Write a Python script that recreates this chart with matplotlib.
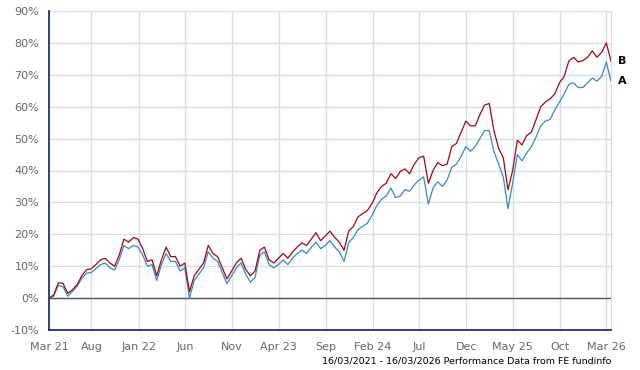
import numpy as np
import pandas as pd
import matplotlib
matplotlib.use("Agg")
import matplotlib.pyplot as plt

# semi-monthly readings, 16/03/2021 -> 16/03/2026
start_date = "2021-03-16"
end_date = "2026-03-16"

fund_b = [0.0, 1.0, 4.8, 4.6, 1.5, 2.6, 4.2, 7.0, 8.9, 9.2,
          10.5, 12.0, 12.5, 11.0, 10.0, 13.5, 18.5, 17.5, 19.0, 18.5,
          15.5, 11.5, 12.0, 7.0, 12.0, 16.0, 13.0, 13.0, 10.0, 11.0,
          2.0, 7.0, 9.0, 11.0, 16.5, 14.0, 13.0, 9.5, 6.0, 8.5,
          11.0, 12.5, 9.0, 7.0, 8.5, 15.0, 16.0, 12.0, 11.0, 12.5,
          14.0, 12.5, 14.5, 16.0, 17.3, 16.5, 18.5, 20.5, 18.0, 19.5,
          21.0, 19.0, 17.5, 15.0, 21.0, 22.5, 25.5, 26.5, 27.5, 29.7,
          33.0, 35.0, 36.0, 39.0, 37.5, 39.7, 40.5, 39.0, 42.0, 44.0,
          44.5, 36.0, 40.0, 42.5, 41.5, 42.0, 47.5, 48.5, 52.0, 55.5,
          54.0, 54.0, 57.5, 60.5, 61.0, 52.5, 47.0, 44.0, 34.0, 40.0,
          49.5, 48.0, 51.0, 52.0, 56.0, 60.0, 61.5, 62.5, 64.0, 67.5,
          69.5, 74.3, 75.5, 74.0, 74.5, 75.5, 77.5, 75.5, 77.0, 80.0,
          74.3]

fund_a = [0.0, 0.6, 4.0, 3.6, 0.6, 2.1, 3.7, 6.2, 7.8, 8.0,
          9.2, 10.5, 11.0, 9.5, 8.8, 12.0, 16.5, 15.5, 16.5, 16.0,
          13.5, 10.0, 10.5, 5.5, 10.5, 14.0, 11.5, 11.5, 8.5, 9.5,
          0.0, 5.5, 7.5, 9.5, 14.5, 12.5, 11.5, 8.0, 4.5, 7.0,
          9.5, 11.0, 7.5, 5.0, 6.5, 13.5, 14.5, 10.5, 9.5, 10.5,
          12.0, 10.5, 12.5, 14.0, 15.0, 14.0, 16.0, 17.5, 15.5, 16.5,
          18.0, 16.0, 14.5, 11.5, 17.5, 19.0, 21.5, 22.5, 23.5, 26.0,
          29.0, 31.0, 32.0, 34.5, 31.5, 32.0, 34.0, 33.5, 35.5, 37.0,
          38.0, 29.5, 34.5, 36.5, 35.0, 37.0, 41.0, 42.0, 44.5, 47.5,
          46.0, 47.5, 50.0, 52.5, 52.5, 46.0, 42.0, 38.0, 28.0, 36.0,
          45.0, 43.0, 45.5, 47.5, 50.5, 54.0, 55.5, 56.0, 59.0, 61.5,
          64.0, 67.0, 67.5, 66.0, 66.0, 67.5, 69.0, 68.0, 69.5, 74.0,
          68.0]

tick_dates = ["2021-03-16", "2021-08-01", "2022-01-01", "2022-06-01", "2022-11-01",
              "2023-04-01", "2023-09-01", "2024-02-01", "2024-07-01", "2024-12-01",
              "2025-05-01", "2025-10-01", "2026-03-01"]
tick_labels = ["Mar 21", "Aug", "Jan 22", "Jun", "Nov", "Apr 23", "Sep",
               "Feb 24", "Jul", "Dec", "May 25", "Oct", "Mar 26"]
y_ticks = [-10, 0, 10, 20, 30, 40, 50, 60, 70, 80, 90]

dates = pd.date_range(start_date, end_date, periods=len(fund_b))

fig = plt.figure(figsize=(6.4, 3.7), dpi=100)
ax = fig.add_axes([49/640, 1 - 330/370, (611 - 49)/640, (330 - 11)/370])

grid_col = "#d3e0ea"
navy = "#0d1f6e"

for y in y_ticks[1:]:
    ax.axhline(y, color=grid_col, lw=1, zorder=0)
for d in tick_dates[1:]:
    ax.axvline(pd.Timestamp(d), color=grid_col, lw=1, zorder=0)
ax.axhline(0, color="#555555", lw=1, zorder=1)

ax.plot(dates, fund_a, color="#3b86cf", lw=0.9, zorder=2)
ax.plot(dates, fund_b, color="#a00a0a", lw=0.9, zorder=3)

ax.set_xlim(pd.Timestamp(start_date), pd.Timestamp(end_date))
ax.set_ylim(-10, 90)
ax.set_yticks(y_ticks)
ax.set_yticklabels([f"{v}%" for v in y_ticks])
ax.set_xticks([pd.Timestamp(d) for d in tick_dates])
ax.set_xticklabels(tick_labels)
ax.tick_params(axis="y", length=0, labelsize=8, labelcolor="#666666", pad=7)
ax.tick_params(axis="x", length=0, labelsize=8, labelcolor="#666666", pad=9)

ax.spines["top"].set_visible(False)
ax.spines["right"].set_color(grid_col)
ax.spines["left"].set_color(navy)
ax.spines["bottom"].set_color(navy)
ax.spines["left"].set_linewidth(1.2)
ax.spines["bottom"].set_linewidth(1.2)

ax.annotate("B", (dates[-1], fund_b[-1]), xytext=(5, 0), textcoords="offset points",
            fontsize=8, fontweight="bold", va="center", annotation_clip=False)
ax.annotate("A", (dates[-1], fund_a[-1]), xytext=(5, 0), textcoords="offset points",
            fontsize=8, fontweight="bold", va="center", annotation_clip=False)

fig.text(611/640, 1 - 361/370, "16/03/2021 - 16/03/2026 Performance Data from FE fundinfo",
         ha="right", va="center", fontsize=6.8, color="black")

fig.savefig("out.png", dpi=100)
